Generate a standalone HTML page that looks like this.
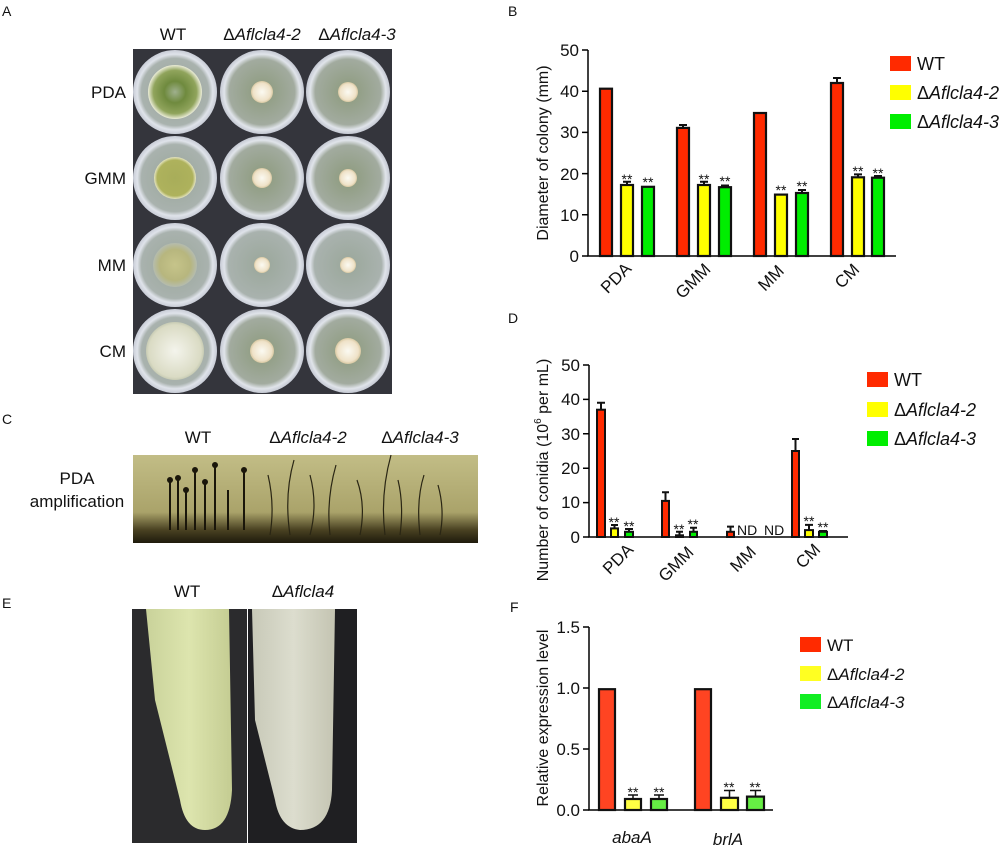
<!DOCTYPE html>
<html><head><meta charset="utf-8"><style>
html,body{margin:0;padding:0;background:#fff}
svg{display:block}
text{font-family:"Liberation Sans","DejaVu Sans",sans-serif;fill:#111}
</style></head><body>
<svg width="1000" height="855" viewBox="0 0 1000 855" xmlns="http://www.w3.org/2000/svg">
<defs>
<radialGradient id="plate" cx="50%" cy="50%" r="50%">
<stop offset="0" stop-color="#9aa79a"/><stop offset="0.8" stop-color="#a9b2ae"/><stop offset="0.9" stop-color="#dfe3ea"/><stop offset="1" stop-color="#c8ccd6"/></radialGradient>
<radialGradient id="plateM" cx="50%" cy="50%" r="50%">
<stop offset="0" stop-color="#8c9a7c"/><stop offset="0.78" stop-color="#a2ab9f"/><stop offset="0.9" stop-color="#e0e4ea"/><stop offset="1" stop-color="#c4c8d2"/></radialGradient>
<radialGradient id="wt1" cx="50%" cy="50%" r="50%"><stop offset="0" stop-color="#9fb08e"/><stop offset="0.4" stop-color="#6f8a3e"/><stop offset="0.8" stop-color="#90a45c"/><stop offset="1" stop-color="#ebecd8"/></radialGradient>
<radialGradient id="wt2" cx="50%" cy="50%" r="50%"><stop offset="0" stop-color="#a8ad5a"/><stop offset="0.85" stop-color="#aeb25c"/><stop offset="1" stop-color="#e6e5c2"/></radialGradient>
<radialGradient id="wt3" cx="50%" cy="50%" r="50%"><stop offset="0" stop-color="#c6c48a"/><stop offset="0.7" stop-color="#b7b67e"/><stop offset="1" stop-color="#b5bcae"/></radialGradient>
<radialGradient id="wt4" cx="50%" cy="50%" r="50%"><stop offset="0" stop-color="#f4f4ec"/><stop offset="0.9" stop-color="#dadbc4"/><stop offset="1" stop-color="#c7cbb4"/></radialGradient>
<radialGradient id="mut" cx="50%" cy="50%" r="50%"><stop offset="0" stop-color="#fbfaf2"/><stop offset="0.8" stop-color="#efe2c8"/><stop offset="1" stop-color="#d8c8a2"/></radialGradient>
<linearGradient id="micro" x1="0" y1="0" x2="0" y2="1"><stop offset="0" stop-color="#c2bd86"/><stop offset="0.65" stop-color="#aaa36a"/><stop offset="0.85" stop-color="#4a4222"/><stop offset="1" stop-color="#1e1a0c"/></linearGradient>
<linearGradient id="tube1" x1="0" y1="0" x2="1" y2="0"><stop offset="0" stop-color="#c9d29a"/><stop offset="0.5" stop-color="#dde5ae"/><stop offset="1" stop-color="#c4cc92"/></linearGradient>
<linearGradient id="tube2" x1="0" y1="0" x2="1" y2="0"><stop offset="0" stop-color="#c8c9b8"/><stop offset="0.5" stop-color="#dcddce"/><stop offset="1" stop-color="#c4c4b2"/></linearGradient>
</defs>

<!-- Panel A -->
<text x="2" y="16" font-size="14">A</text>
<text x="173" y="40" font-size="17" text-anchor="middle">WT</text>
<text x="262" y="40" font-size="17" text-anchor="middle">Δ<tspan font-style="italic">Aflcla4-2</tspan></text>
<text x="357" y="40" font-size="17" text-anchor="middle">Δ<tspan font-style="italic">Aflcla4-3</tspan></text>
<text x="126" y="92" font-size="17" text-anchor="end" dy="6">PDA</text>
<text x="126" y="178" font-size="17" text-anchor="end" dy="6">GMM</text>
<text x="126" y="265" font-size="17" text-anchor="end" dy="6">MM</text>
<text x="126" y="351" font-size="17" text-anchor="end" dy="6">CM</text>
<rect x="133" y="49" width="259" height="345" fill="#34353c"/>
<g>
<circle cx="175" cy="92" r="42" fill="url(#plate)"/><circle cx="175" cy="92" r="27" fill="url(#wt1)"/>
<circle cx="262" cy="92" r="42" fill="url(#plateM)"/><circle cx="262" cy="92" r="11" fill="url(#mut)"/>
<circle cx="348" cy="92" r="42" fill="url(#plateM)"/><circle cx="348" cy="92" r="10" fill="url(#mut)"/>
<circle cx="175" cy="178" r="42" fill="url(#plate)"/><circle cx="175" cy="178" r="21" fill="url(#wt2)"/>
<circle cx="262" cy="178" r="42" fill="url(#plateM)"/><circle cx="262" cy="178" r="10" fill="url(#mut)"/>
<circle cx="348" cy="178" r="42" fill="url(#plateM)"/><circle cx="348" cy="178" r="9" fill="url(#mut)"/>
<circle cx="175" cy="265" r="42" fill="url(#plate)"/><circle cx="175" cy="265" r="22" fill="url(#wt3)"/>
<circle cx="262" cy="265" r="42" fill="url(#plate)"/><circle cx="262" cy="265" r="8" fill="url(#mut)"/>
<circle cx="348" cy="265" r="42" fill="url(#plate)"/><circle cx="348" cy="265" r="8" fill="url(#mut)"/>
<circle cx="175" cy="351" r="42" fill="url(#plate)"/><circle cx="175" cy="351" r="29" fill="url(#wt4)"/>
<circle cx="262" cy="351" r="42" fill="url(#plateM)"/><circle cx="262" cy="351" r="12" fill="url(#mut)"/>
<circle cx="348" cy="351" r="42" fill="url(#plateM)"/><circle cx="348" cy="351" r="13" fill="url(#mut)"/>
</g>

<!-- Panel C -->
<text x="2" y="424" font-size="14">C</text>
<text x="198" y="443" font-size="17" text-anchor="middle">WT</text>
<text x="308" y="443" font-size="17" text-anchor="middle">Δ<tspan font-style="italic">Aflcla4-2</tspan></text>
<text x="420" y="443" font-size="17" text-anchor="middle">Δ<tspan font-style="italic">Aflcla4-3</tspan></text>
<text x="77" y="484" font-size="17" text-anchor="middle">PDA</text>
<text x="77" y="507" font-size="17" text-anchor="middle">amplification</text>
<rect x="133" y="455" width="345" height="88" fill="url(#micro)"/>
<g stroke="#1a160a" stroke-width="2" fill="none">
<path d="M170 530 V480 M178 530 V478 M186 530 V490 M195 530 V470 M205 530 V482 M215 530 V465 M228 530 V490 M244 530 V470"/>
</g>
<g fill="#1a160a"><circle cx="170" cy="480" r="3"/><circle cx="178" cy="478" r="3"/><circle cx="186" cy="490" r="3"/><circle cx="195" cy="470" r="3"/><circle cx="205" cy="482" r="3"/><circle cx="215" cy="465" r="3"/><circle cx="244" cy="470" r="3"/></g>
<g stroke="#2a2614" stroke-width="1.2" fill="none">
<path d="M270 535 q5 -30 -2 -60 M290 535 q-6 -40 4 -75 M310 535 q8 -30 0 -60 M330 535 q-4 -35 6 -70 M360 535 q6 -30 -3 -55 M385 535 q-5 -40 6 -80 M400 535 q4 -30 -2 -55 M420 535 q-4 -35 4 -60 M440 535 q5 -25 -2 -50"/>
</g>

<!-- Panel E -->
<text x="2" y="608" font-size="14">E</text>
<text x="187" y="597" font-size="17" text-anchor="middle">WT</text>
<text x="303" y="597" font-size="17" text-anchor="middle">Δ<tspan font-style="italic">Aflcla4</tspan></text>
<rect x="132" y="609" width="115" height="234" fill="#2b2b2d"/>
<rect x="248" y="609" width="109" height="234" fill="#1f1f22"/>
<path d="M146 609 H229 L232 790 Q230 830 205 830 Q185 830 180 800 L155 700 Z" fill="url(#tube1)"/>
<path d="M252 609 H335 L332 790 Q330 830 300 830 Q280 828 275 800 L255 720 Z" fill="url(#tube2)"/>

<!-- Panel B -->
<text x="508" y="16" font-size="14">B</text>
<g stroke="#000" stroke-width="1.5" fill="none"><path d="M588 50 V256 H896"/><path d="M582 50 H588 M582 91.2 H588 M582 132.4 H588 M582 173.6 H588 M582 214.8 H588 M582 256 H588"/></g>
<g font-size="17" text-anchor="end"><text x="579" y="56">50</text><text x="579" y="97">40</text><text x="579" y="138">30</text><text x="579" y="180">20</text><text x="579" y="221">10</text><text x="579" y="262">0</text></g>
<text transform="translate(548,153) rotate(-90)" font-size="16" text-anchor="middle">Diameter of colony (mm)</text>
<g stroke="#111" stroke-width="2.2">
<rect x="600" y="88.7" width="12" height="167.3" fill="#ff2a00"/>
<rect x="621" y="185" width="12" height="71" fill="#ffff00"/>
<rect x="642" y="186.8" width="12" height="69.2" fill="#00ee00"/>
<rect x="677" y="127.9" width="12" height="128.1" fill="#ff2a00"/>
<rect x="698" y="185" width="12" height="71" fill="#ffff00"/>
<rect x="719" y="187.2" width="12" height="68.8" fill="#00ee00"/>
<rect x="754" y="113" width="12" height="143" fill="#ff2a00"/>
<rect x="775" y="194.6" width="12" height="61.4" fill="#ffff00"/>
<rect x="796" y="193" width="12" height="63" fill="#00ee00"/>
<rect x="831" y="83" width="12" height="173" fill="#ff2a00"/>
<rect x="852" y="177.3" width="12" height="78.7" fill="#ffff00"/>
<rect x="872" y="177.7" width="12" height="78.3" fill="#00ee00"/>
</g>
<g stroke="#111" stroke-width="2"><path d="M627 185 V181.8 M623 181.8 H631 M704 185 V181.8 M700 181.8 H708 M725 187.2 V185.5 M721 185.5 H729 M683 127.9 V125 M679 125 H687 M802 193 V190 M798 190 H806 M837 83 V78 M833 78 H841 M858 177.3 V174.4 M854 174.4 H862 M878 177.7 V176 M874 176 H882"/></g>
<g font-size="14" text-anchor="middle"><text x="627" y="184">**</text><text x="648" y="187">**</text><text x="704" y="184">**</text><text x="725" y="186">**</text><text x="781" y="195">**</text><text x="802" y="191">**</text><text x="858" y="176">**</text><text x="878" y="178">**</text></g>
<g font-size="17" text-anchor="middle">
<text transform="translate(620,282) rotate(-45)">PDA</text>
<text transform="translate(697,285) rotate(-45)">GMM</text>
<text transform="translate(775,282) rotate(-45)">MM</text>
<text transform="translate(851,280) rotate(-45)">CM</text></g>
<rect x="890" y="56" width="21" height="15" fill="#ff2a00"/><rect x="890" y="85" width="21" height="15" fill="#ffff00"/><rect x="890" y="114" width="21" height="15" fill="#00ee00"/>
<g font-size="18"><text x="917" y="70">WT</text><text x="917" y="99">Δ<tspan font-style="italic">Aflcla4-2</tspan></text><text x="917" y="128">Δ<tspan font-style="italic">Aflcla4-3</tspan></text></g>

<!-- Panel D -->
<text x="508" y="323" font-size="14">D</text>
<g stroke="#000" stroke-width="1.5" fill="none"><path d="M589 365 V537 H848"/><path d="M583 365 H589 M583 399.4 H589 M583 433.8 H589 M583 468.2 H589 M583 502.6 H589 M583 537 H589"/></g>
<g font-size="17" text-anchor="end"><text x="580" y="371">50</text><text x="580" y="405">40</text><text x="580" y="440">30</text><text x="580" y="474">20</text><text x="580" y="508">10</text><text x="580" y="543">0</text></g>
<text transform="translate(548,470) rotate(-90)" font-size="16" text-anchor="middle">Number of conidia (10<tspan font-size="10" dy="-7">6</tspan><tspan dy="7"> per mL)</tspan></text>
<g stroke="#111" stroke-width="2">
<rect x="597" y="409.7" width="8" height="127.3" fill="#ff2a00"/>
<rect x="611" y="528.4" width="7" height="8.6" fill="#ffff00"/>
<rect x="625" y="531.8" width="8" height="5.2" fill="#00ee00"/>
<rect x="662" y="500.9" width="7" height="36.1" fill="#ff2a00"/>
<rect x="676" y="535.3" width="7" height="1.7" fill="#ffff00"/>
<rect x="690" y="531.8" width="7" height="5.2" fill="#00ee00"/>
<rect x="727" y="531.8" width="7" height="5.2" fill="#ff2a00"/>
<rect x="792" y="451" width="7" height="86" fill="#ff2a00"/>
<rect x="805" y="530.1" width="8" height="6.9" fill="#ffff00"/>
<rect x="819" y="531.8" width="8" height="5.2" fill="#00ee00"/>
<path d="M601 409.7 V402.8 M597 402.8 H605 M614.5 528.4 V525 M611 525 H618 M629 531.8 V529 M625 529 H633 M665.5 500.9 V492.3 M662 492.3 H669 M679.5 535.3 V531.8 M676 531.8 H683 M693.5 531.8 V527.7 M690 527.7 H697 M730.5 531.8 V526.6 M727 526.6 H734 M795.5 451 V439 M792 439 H799 M809 530.1 V524.9 M805 524.9 H813 M823 531.8 V531 M819 531 H827"/>
</g>
<g font-size="14" text-anchor="middle"><text x="614" y="527">**</text><text x="629" y="531">**</text><text x="679" y="534">**</text><text x="693" y="529">**</text><text x="809" y="526">**</text><text x="823" y="532">**</text></g>
<g font-size="14"><text x="737" y="535">ND</text><text x="764" y="535">ND</text></g>
<g font-size="17" text-anchor="middle">
<text transform="translate(622,563) rotate(-45)">PDA</text>
<text transform="translate(680,568) rotate(-45)">GMM</text>
<text transform="translate(747,563) rotate(-45)">MM</text>
<text transform="translate(812,560) rotate(-45)">CM</text></g>
<rect x="867" y="372" width="21" height="15" fill="#ff2a00"/><rect x="867" y="402" width="21" height="15" fill="#ffff00"/><rect x="867" y="431" width="21" height="15" fill="#00ee00"/>
<g font-size="18"><text x="894" y="386">WT</text><text x="894" y="416">Δ<tspan font-style="italic">Aflcla4-2</tspan></text><text x="894" y="445">Δ<tspan font-style="italic">Aflcla4-3</tspan></text></g>

<!-- Panel F -->
<text x="510" y="612" font-size="14">F</text>
<g stroke="#000" stroke-width="1.5" fill="none"><path d="M589 627 V810 H773"/><path d="M583 627 H589 M583 688 H589 M583 749 H589 M583 810 H589"/></g>
<g font-size="17" text-anchor="end"><text x="580" y="633">1.5</text><text x="580" y="694">1.0</text><text x="580" y="755">0.5</text><text x="580" y="816">0.0</text></g>
<text transform="translate(548,718) rotate(-90)" font-size="16" text-anchor="middle">Relative expression level</text>
<g stroke="#111" stroke-width="2.2">
<rect x="599" y="689.2" width="16" height="120.8" fill="#ff4422"/>
<rect x="625" y="799" width="16" height="11" fill="#ffff44"/>
<rect x="651" y="799" width="16" height="11" fill="#66ee44"/>
<rect x="695" y="689.2" width="16" height="120.8" fill="#ff4422"/>
<rect x="721" y="797.8" width="17" height="12.2" fill="#ffff44"/>
<rect x="747" y="796.6" width="17" height="13.4" fill="#66ee44"/>
</g>
<g stroke="#111" stroke-width="1.5"><path d="M633 799 V795 M628 795 H638 M659 799 V795 M654 795 H664 M729.5 797.8 V790.5 M724 790.5 H735 M755.5 796.6 V790.5 M750 790.5 H761"/></g>
<g font-size="14" text-anchor="middle"><text x="633" y="797">**</text><text x="659" y="797">**</text><text x="729" y="792">**</text><text x="755" y="792">**</text></g>
<g font-size="17" font-style="italic" text-anchor="middle"><text x="632" y="843">abaA</text><text x="728" y="845">brlA</text></g>
<rect x="800" y="637" width="21" height="15" fill="#ff2a00"/><rect x="800" y="666" width="21" height="15" fill="#ffff22"/><rect x="800" y="694" width="21" height="15" fill="#11ee22"/>
<g font-size="17"><text x="827" y="651">WT</text><text x="827" y="680">Δ<tspan font-style="italic">Aflcla4-2</tspan></text><text x="827" y="708">Δ<tspan font-style="italic">Aflcla4-3</tspan></text></g>
</svg>
</body></html>
